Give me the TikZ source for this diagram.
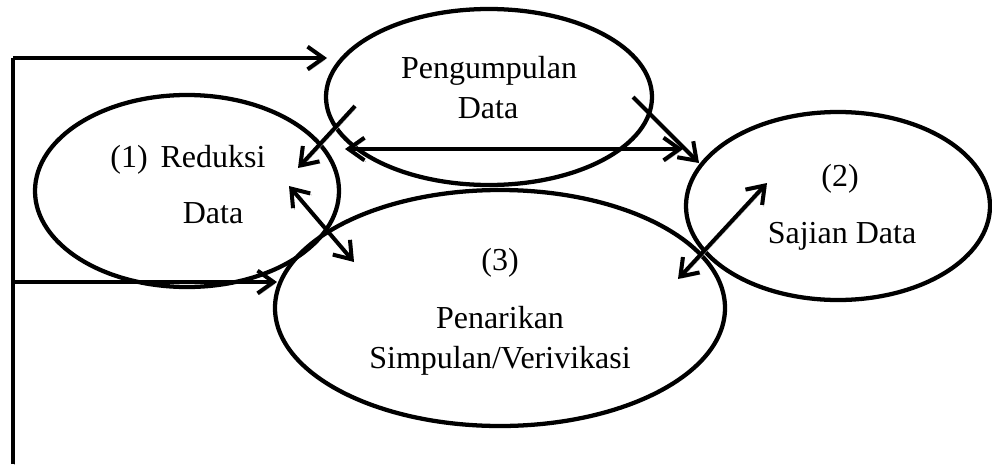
\documentclass[tikz,border=0pt]{standalone}
\usepackage{fontspec}
\setmainfont{Liberation Serif}
\usetikzlibrary{shapes.geometric,arrows.meta}

\begin{document}
\begin{tikzpicture}[x=0.75pt,y=-0.75pt,
  oval/.style={ellipse,draw,line width=3.2pt,inner sep=0pt},
  txt/.style={anchor=base,inner sep=0pt,font=\fontsize{24}{30}\selectfont},
  tip/.style={Straight Barb[length=12pt,width=17pt]},
  flow/.style={line width=3pt,-{Straight Barb[length=12pt,width=17pt]},
    preaction={draw=black!30,transform canvas={shift={(1.2pt,-1.2pt)}}}},
  both/.style={flow,{Straight Barb[length=12pt,width=17pt]}-{Straight Barb[length=12pt,width=17pt]}},
  rail/.style={line width=3pt,
    preaction={draw=black!30,transform canvas={shift={(1.2pt,-1.2pt)}}}}]
\useasboundingbox (0,0) rectangle (992,464);

% the four stages
\node[oval,minimum width=244.5pt,minimum height=132pt] (kumpul) at (489,97) {};
\node[oval,minimum width=228pt,minimum height=144pt] (reduksi) at (187,191) {};
\node[oval,minimum width=228pt,minimum height=141pt] (sajian) at (838,206) {};
\node[oval,minimum width=337.5pt,minimum height=177pt] (simpulan) at (500,308) {};

% stage labels
\node[txt] (t1) at (489,78) {Pengumpulan};
\node[txt] (t2) at (488,118) {Data};
\node[txt] (t3) at (188,167) {(1)\hspace{0.4em}Reduksi};
\node[txt] (t4) at (213,223) {Data};
\node[txt] (t5) at (840,186) {(2)};
\node[txt] (t6) at (842,243) {Sajian Data};
\node[txt] (t7) at (500,270) {(3)};
\node[txt] (t8) at (500,328) {Penarikan};
\node[txt] (t9) at (500,368) {Simpulan/Verivikasi};

% arrow end points
\coordinate (ab1) at (355,106);  \coordinate (ab2) at (298,168);
\coordinate (ac1) at (633,97);   \coordinate (ac2) at (699,163);
\coordinate (h1) at (345,149);   \coordinate (h2) at (683,149);
\coordinate (bd1) at (289,186);  \coordinate (bd2) at (354,262);
\coordinate (cd1) at (767,183);  \coordinate (cd2) at (678,279);
\coordinate (r0) at (13,464);
\coordinate (r1) at (13,58);     \coordinate (r2) at (327,58);
\coordinate (r3) at (13,282);    \coordinate (r4) at (277,282);

% connectors
\draw[flow] (ab1) -- (ab2);
\draw[flow] (ac1) -- (ac2);
\draw[both] (h1) -- (h2);
\draw[both] (bd1) -- (bd2);
\draw[both] (cd1) -- (cd2);

% feedback rail on the left
\draw[rail] (r0) -- (r1);
\draw[flow] (r1) -- (r2);
\draw[flow] (r3) -- (r4);
\end{tikzpicture}
\end{document}
